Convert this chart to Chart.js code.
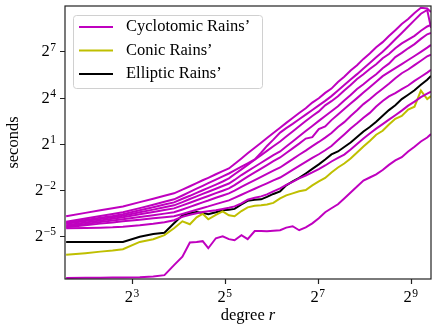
<!DOCTYPE html>
<html>
<head>
<meta charset="utf-8">
<title>Rains' timings</title>
<script src="https://cdn.jsdelivr.net/npm/chart.js@4.4.1/dist/chart.umd.min.js"></script>
<style>
  html, body { margin: 0; padding: 0; background: #fff; }
  canvas { display: block; }
</style>
</head>
<body>
<canvas id="timingChart" width="433" height="331"></canvas>
<script>
// ── DATA: degree r and log2(seconds) ──
const degrees = [3, 4, 5, 6, 7, 9, 11, 13, 15, 17, 19, 21, 23, 25, 28, 31, 34, 37, 41, 45,
    50, 55, 60, 66, 73, 80, 88, 97, 107, 118, 130, 143, 157, 173, 190, 209, 230, 253, 278, 306,
    337, 370, 407, 448, 493, 542, 596, 655, 693];

const cyclotomic1 = [-3.72, -3.50, -3.33, -3.20, -3.08, -2.80, -2.58, -2.39, -2.23, -1.99, -1.77, -1.57, -1.38, -1.22, -0.99, -0.79, -0.61, -0.32, 0.04, 0.37,
    0.73, 1.06, 1.37, 1.69, 2.04, 2.35, 2.67, 2.99, 3.30, 3.67, 3.95, 4.30, 4.58, 5.01, 5.35, 5.76, 6.10, 6.51, 6.86, 7.27,
    7.60, 8.00, 8.38, 8.78, 9.10, 9.50, 9.84, 9.79, 9.56];
const cyclotomic2 = [-4.08, -3.87, -3.71, -3.57, -3.46, -3.19, -2.97, -2.78, -2.62, -2.37, -2.14, -1.93, -1.74, -1.57, -1.34, -1.13, -0.94, -0.74, -0.50, -0.28,
    -0.03, 0.41, 0.85, 1.26, 1.72, 2.01, 2.29, 2.59, 2.89, 3.19, 3.49, 3.78, 4.09, 4.45, 4.81, 5.17, 5.52, 5.89, 6.25, 6.62,
    6.98, 7.37, 7.79, 8.20, 8.62, 9.03, 9.45, 9.69, 8.53];
const cyclotomic3 = [-4.15, -3.96, -3.81, -3.70, -3.59, -3.33, -3.13, -2.96, -2.82, -2.58, -2.39, -2.20, -2.03, -1.87, -1.66, -1.46, -1.26, -0.99, -0.67, -0.38,
    -0.05, 0.25, 0.53, 0.83, 1.14, 1.46, 1.79, 2.13, 2.47, 2.80, 3.10, 3.49, 3.76, 4.08, 4.46, 4.81, 5.20, 5.51, 5.85, 6.16,
    6.55, 6.83, 7.20, 7.52, 7.77, 8.01, 8.34, 8.62, 8.72];
const cyclotomic4 = [-4.21, -4.03, -3.90, -3.79, -3.69, -3.46, -3.29, -3.13, -3.01, -2.80, -2.60, -2.43, -2.27, -2.13, -1.93, -1.75, -1.59, -1.36, -1.04, -0.79,
    -0.50, -0.24, 0.00, 0.26, 0.49, 0.81, 1.14, 1.48, 1.82, 2.15, 2.48, 2.80, 3.11, 3.43, 3.81, 4.16, 4.55, 4.86, 5.20, 5.51,
    5.90, 6.20, 6.63, 6.90, 7.20, 7.47, 7.81, 8.11, 8.20];
const cyclotomic5 = [-4.31, -4.13, -4.00, -3.89, -3.79, -3.59, -3.44, -3.32, -3.21, -3.01, -2.84, -2.68, -2.53, -2.40, -2.22, -2.06, -1.91, -1.69, -1.40, -1.14,
    -0.87, -0.62, -0.39, -0.14, 0.10, 0.39, 0.69, 1.00, 1.33, 1.42, 1.95, 2.12, 2.53, 2.90, 3.25, 3.61, 3.96, 4.32, 4.67, 5.03,
    5.39, 5.65, 5.91, 6.17, 6.44, 6.70, 6.97, 7.24, 7.42];
const cyclotomic6 = [-4.37, -4.22, -4.10, -4.00, -3.92, -3.77, -3.65, -3.55, -3.46, -3.28, -3.11, -2.96, -2.82, -2.70, -2.52, -2.37, -2.23, -2.05, -1.81, -1.60,
    -1.37, -1.16, -0.96, -0.76, -0.55, -0.28, -0.01, 0.28, 0.55, 0.84, 1.11, 1.39, 1.69, 2.08, 2.40, 2.80, 3.17, 3.57, 3.89, 4.25,
    4.57, 4.89, 5.25, 5.58, 5.82, 6.11, 6.39, 6.68, 6.78];
const cyclotomic7 = [-4.44, -4.31, -4.20, -4.12, -4.05, -3.94, -3.85, -3.78, -3.72, -3.57, -3.43, -3.30, -3.18, -3.08, -2.93, -2.80, -2.69, -2.52, -2.32, -2.14,
    -1.93, -1.75, -1.58, -1.39, -1.20, -0.96, -0.71, -0.45, -0.19, 0.07, 0.31, 0.57, 0.85, 1.23, 1.60, 1.99, 2.32, 2.69, 3.00, 3.41,
    3.77, 4.07, 4.29, 4.55, 4.78, 5.08, 5.35, 5.62, 5.80];
const cyclotomic8 = [-4.50, -4.48, -4.46, -4.44, -4.40, -4.31, -4.21, -4.11, -3.98, -3.75, -3.62, -3.52, -3.45, -3.40, -3.33, -3.25, -3.17, -3.08, -2.88, -2.65,
    -2.52, -2.43, -2.30, -2.10, -1.91, -1.68, -1.49, -1.26, -1.07, -0.87, -0.65, -0.42, -0.16, 0.07, 0.29, 0.62, 0.98, 1.33, 1.66, 1.98,
    2.27, 2.56, 2.85, 3.15, 3.47, 3.73, 4.02, 4.25, 4.38];
const cyclotomic9 = [-7.74, -7.72, -7.72, -7.71, -7.70, -7.68, -7.63, -7.55, -6.90, -6.35, -5.43, -5.39, -5.34, -5.80, -5.15, -5.02, -5.21, -5.28, -4.95, -5.21,
    -4.68, -4.68, -4.70, -4.66, -4.63, -4.46, -4.37, -4.63, -4.44, -4.18, -3.85, -3.46, -3.20, -2.94, -2.56, -2.17, -1.78, -1.40, -1.20, -1.00,
    -0.71, -0.38, -0.09, 0.12, 0.49, 0.80, 1.14, 1.40, 1.62];
const conic = [-6.23, -6.12, -6.02, -5.95, -5.86, -5.39, -5.21, -4.95, -4.50, -4.05, -4.24, -3.79, -3.56, -3.92, -3.63, -3.40, -3.66, -3.72, -3.38, -3.14,
    -3.04, -3.01, -2.95, -2.85, -2.56, -2.36, -2.23, -2.10, -2.01, -1.71, -1.45, -1.23, -0.87, -0.55, -0.29, 0.03, 0.42, 0.81, 1.17, 1.58,
    1.84, 2.24, 2.62, 2.80, 3.22, 3.40, 4.45, 3.90, 4.09];
const elliptic = [-5.39, -5.40, -5.40, -5.40, -5.39, -5.05, -4.87, -4.79, -4.18, -3.66, -3.53, -3.44, -3.50, -3.59, -3.46, -3.33, -3.30, -3.24, -2.95, -2.72,
    -2.65, -2.62, -2.46, -2.27, -2.10, -1.71, -1.45, -1.23, -0.94, -0.64, -0.35, -0.03, 0.30, 0.49, 0.78, 1.07, 1.43, 1.79, 2.08, 2.43,
    2.82, 3.18, 3.50, 3.90, 4.18, 4.47, 4.83, 5.16, 5.41];

const xTickExps = [3, 5, 7, 9];
const yTickExps = [-5, -2, 1, 4, 7];
const legendLabels = ['Cyclotomic Rains\u2019', 'Conic Rains\u2019', 'Elliptic Rains\u2019'];

// ── STYLE ──
const MAGENTA = '#bf00bf';
const OLIVE = '#bfbf00';
const BLACK = '#000000';
const SERIF = '"Liberation Serif", serif';
const BASE_PX = 16.5;
const SUP_PX = 11.5;

const toPoints = logs => degrees.map((r, i) => ({ x: r, y: 2 ** logs[i] }));
const line = (logs, color) => ({
    data: toPoints(logs),
    borderColor: color,
    borderWidth: 2,
    pointRadius: 0,
    tension: 0,
    fill: false
});

const cyclotomicAll = [cyclotomic1, cyclotomic2, cyclotomic3, cyclotomic4, cyclotomic5,
    cyclotomic6, cyclotomic7, cyclotomic8, cyclotomic9];
const datasets = [
    ...cyclotomicAll.map(s => line(s, MAGENTA)),
    line(conic, OLIVE),
    line(elliptic, BLACK)
];

// superscript power label: "2" then a raised exponent
function powLabel(ctx, exp, x, baseline, align) {
    const sup = exp < 0 ? '\u2212' + (-exp) : String(exp);
    ctx.font = BASE_PX + 'px ' + SERIF;
    const wb = ctx.measureText('2').width;
    ctx.font = SUP_PX + 'px ' + SERIF;
    const ws = ctx.measureText(sup).width;
    const total = wb + 0.5 + ws;
    const left = align === 'center' ? x - total / 2 : x - total;
    ctx.textAlign = 'left';
    ctx.textBaseline = 'alphabetic';
    ctx.font = BASE_PX + 'px ' + SERIF;
    ctx.fillText('2', left, baseline);
    ctx.font = SUP_PX + 'px ' + SERIF;
    ctx.fillText(sup, left + wb + 0.5, baseline - 5.5);
}

// ── FRAME, TICKS, LABELS, LEGEND ──
const decorations = {
    id: 'decorations',
    afterDraw(chart) {
        const { ctx, chartArea: a, scales: { x, y } } = chart;
        ctx.save();
        ctx.fillStyle = '#000';

        // frame
        ctx.strokeStyle = '#222';
        ctx.lineWidth = 1.2;
        ctx.strokeRect(a.left, a.top, a.right - a.left, a.bottom - a.top);

        // tick marks
        ctx.beginPath();
        xTickExps.forEach(e => {
            const px = Math.round(x.getPixelForValue(2 ** e)) + 0.5;
            ctx.moveTo(px, a.bottom);
            ctx.lineTo(px, a.bottom + 5);
        });
        yTickExps.forEach(e => {
            const py = Math.round(y.getPixelForValue(2 ** e)) + 0.5;
            ctx.moveTo(a.left, py);
            ctx.lineTo(a.left - 5, py);
        });
        ctx.stroke();

        // tick labels
        xTickExps.forEach(e => powLabel(ctx, e, x.getPixelForValue(2 ** e), a.bottom + 23, 'center'));
        yTickExps.forEach(e => powLabel(ctx, e, a.left - 9, y.getPixelForValue(2 ** e) + 5, 'right'));

        // axis titles
        ctx.font = BASE_PX + 'px ' + SERIF;
        ctx.textBaseline = 'middle';
        ctx.textAlign = 'center';
        ctx.save();
        ctx.translate(14, (a.top + a.bottom) / 2);
        ctx.rotate(-Math.PI / 2);
        ctx.fillText('seconds', 0, 0);
        ctx.restore();

        const word = 'degree ';
        ctx.font = BASE_PX + 'px ' + SERIF;
        const ww = ctx.measureText(word).width;
        ctx.font = 'italic ' + BASE_PX + 'px ' + SERIF;
        const wr = ctx.measureText('r').width;
        const startX = (a.left + a.right) / 2 - (ww + wr) / 2;
        ctx.textAlign = 'left';
        ctx.textBaseline = 'alphabetic';
        ctx.font = BASE_PX + 'px ' + SERIF;
        ctx.fillText(word, startX, 320);
        ctx.font = 'italic ' + BASE_PX + 'px ' + SERIF;
        ctx.fillText('r', startX + ww, 320);

        // legend
        const box = { x: 73.5, y: 15.5, w: 189, h: 73 };
        ctx.beginPath();
        ctx.roundRect(box.x, box.y, box.w, box.h, 3);
        ctx.fillStyle = 'rgba(255,255,255,0.8)';
        ctx.fill();
        ctx.strokeStyle = '#d0d0d0';
        ctx.lineWidth = 1;
        ctx.stroke();

        const colors = [MAGENTA, OLIVE, BLACK];
        ctx.font = BASE_PX + 'px ' + SERIF;
        ctx.textBaseline = 'middle';
        legendLabels.forEach((label, i) => {
            const ly = 27 + i * 23.5;
            ctx.strokeStyle = colors[i];
            ctx.lineWidth = 2;
            ctx.beginPath();
            ctx.moveTo(79, ly);
            ctx.lineTo(113, ly);
            ctx.stroke();
            ctx.fillStyle = '#000';
            ctx.fillText(label, 126, ly);
        });
        ctx.restore();
    }
};

new Chart(document.getElementById('timingChart'), {
    type: 'line',
    data: { datasets },
    options: {
        responsive: false,
        animation: false,
        layout: { padding: { top: 6, right: 2, left: 0, bottom: 0 } },
        plugins: {
            legend: { display: false },
            tooltip: { enabled: false }
        },
        scales: {
            x: {
                type: 'logarithmic',
                min: 2.95,
                max: 693,
                ticks: { display: false },
                grid: { display: false },
                border: { display: false },
                afterBuildTicks: s => { s.ticks = xTickExps.map(e => ({ value: 2 ** e })); },
                afterFit: s => { s.height = 52; }
            },
            y: {
                type: 'logarithmic',
                min: 2 ** -7.8,
                max: 2 ** 9.95,
                ticks: { display: false },
                grid: { display: false },
                border: { display: false },
                afterBuildTicks: s => { s.ticks = yTickExps.map(e => ({ value: 2 ** e })); },
                afterFit: s => { s.width = 65; }
            }
        }
    },
    plugins: [decorations]
});
</script>
</body>
</html>
